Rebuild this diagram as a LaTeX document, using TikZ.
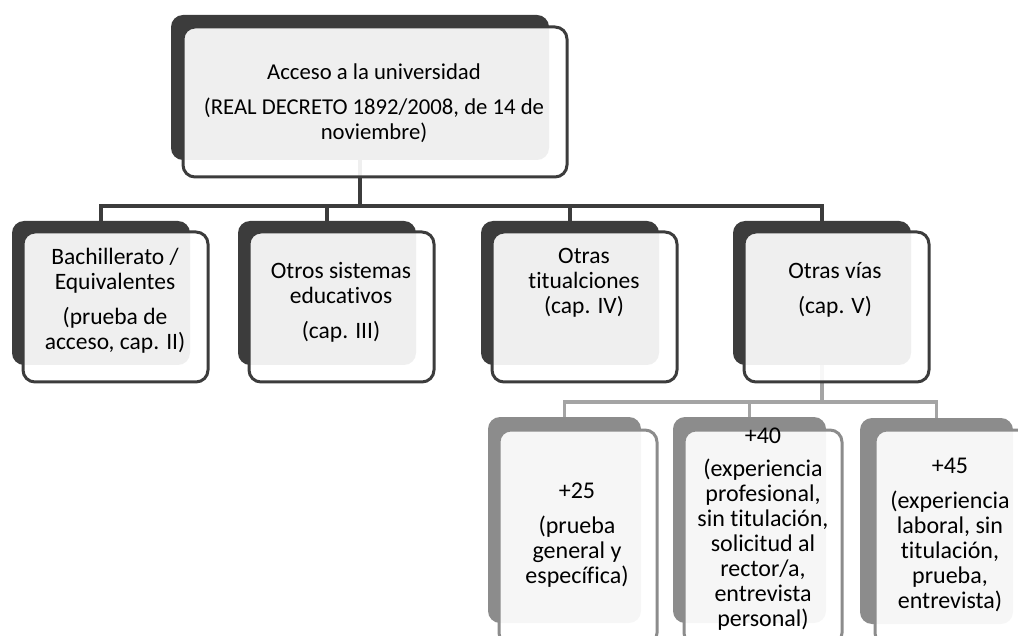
\documentclass[tikz,border=0pt]{standalone}
\usepackage{fontspec}
\setmainfont{Carlito}[Ligatures=NoCommon]
\definecolor{dkg}{HTML}{3C3C3C}
\definecolor{mdg}{HTML}{8C8C8C}
\definecolor{ltg}{HTML}{A4A4A4}
\tikzset{%
    bk/.style={rectangle, rounded corners=12pt, fill=dkg, inner sep=0pt},
    bkl/.style={bk, fill=mdg},
    fr/.style={rectangle, rounded corners=12pt, draw=dkg, line width=3pt, fill=white, fill opacity=0.92, inner sep=0pt},
    frl/.style={fr, draw=mdg, fill opacity=0.93},
    txt/.style={align=center, inner sep=0pt, font=\fontsize{#1}{25}\selectfont},
    txt/.default=23.5,
    con/.style={line width=3.5pt, dkg},
    conl/.style={line width=3.5pt, ltg},
}

\begin{document}
\begin{tikzpicture}[x=1pt, y=-1pt]
    \useasboundingbox (0,0) rectangle (1018,636);
    \clip (0,0) rectangle (1018,636);
    \coordinate (bar) at (0,206);
    \coordinate (barl) at (0,402);
    % back boxes
    \node[bk, minimum width=378, minimum height=145] (acc-b) at (360,87.5) {};
    \node[bk, minimum width=178, minimum height=144] (bach-b) at (101,293) {};
    \node[bk, minimum width=178, minimum height=144] (sis-b) at (327,293) {};
    \node[bk, minimum width=178, minimum height=144] (tit-b) at (570,293) {};
    \node[bk, minimum width=178, minimum height=144] (via-b) at (822,293) {};
    \node[bkl, minimum width=153, minimum height=206] (m25-b) at (564.5,520) {};
    \node[bkl, minimum width=153, minimum height=206] (m40-b) at (749.5,520) {};
    \node[bkl, minimum width=153, minimum height=206] (m45-b) at (936.5,521) {};
    % connectors
    \draw[con] (acc-b.south) -- (acc-b.south |- bar) -| (bach-b.north);
    \draw[con] (acc-b.south) -- (acc-b.south |- bar) -| (sis-b.north);
    \draw[con] (acc-b.south) -- (acc-b.south |- bar) -| (tit-b.north);
    \draw[con] (acc-b.south) -- (acc-b.south |- bar) -| (via-b.north);
    \draw[conl] (via-b.south) -- (via-b.south |- barl) -| (m25-b.north);
    \draw[conl] (via-b.south) -- (via-b.south |- barl) -| (m40-b.north);
    \draw[conl] (via-b.south) -- (via-b.south |- barl) -| (m45-b.north);
    % front boxes
    \node[fr, minimum width=384, minimum height=150] (acc) at (375,102) {};
    \node[fr, minimum width=185, minimum height=150] (bach) at (115.5,307) {};
    \node[fr, minimum width=185, minimum height=150] (sis) at (341.5,307) {};
    \node[fr, minimum width=185, minimum height=150] (tit) at (584.5,307) {};
    \node[fr, minimum width=185, minimum height=150] (via) at (836.5,307) {};
    \node[frl, minimum width=158, minimum height=215] (m25) at (578,537.5) {};
    \node[frl, minimum width=158, minimum height=215] (m40) at (763,537.5) {};
    \node[frl, minimum width=158, minimum height=215] (m45) at (954,537.5) {};
    % texts
    \node[txt=22.7] (acc-t) at (374,103) {Acceso a la universidad\\[10pt](REAL DECRETO 1892/2008, de 14 de\\noviembre)};
    \node[txt] (bach-t) at (115,300.5) {Bachillerato /\\Equivalentes\\[10pt](prueba de\\acceso, cap. II)};
    \node[txt] (sis-t) at (341,302.5) {Otros sistemas\\educativos\\[10pt](cap. III)};
    \node[txt] (tit-t) at (584,282.5) {Otras\\titualciones\\(cap. IV)};
    \node[txt] (via-t) at (835,289.5) {Otras vías\\[10pt](cap. V)};
    \node[txt=24] (m25-t) at (577,535) {+25\\[10pt](prueba\\general y\\específica)};
    \node[txt=24] (m40-t) at (763,529.5) {+40\\[8pt](experiencia\\profesional,\\sin titulación,\\solicitud al\\rector/a,\\entrevista\\personal)};
    \node[txt=24] (m45-t) at (950,534.5) {+45\\[10pt](experiencia\\laboral, sin\\titulación,\\prueba,\\entrevista)};
\end{tikzpicture}
\end{document}
